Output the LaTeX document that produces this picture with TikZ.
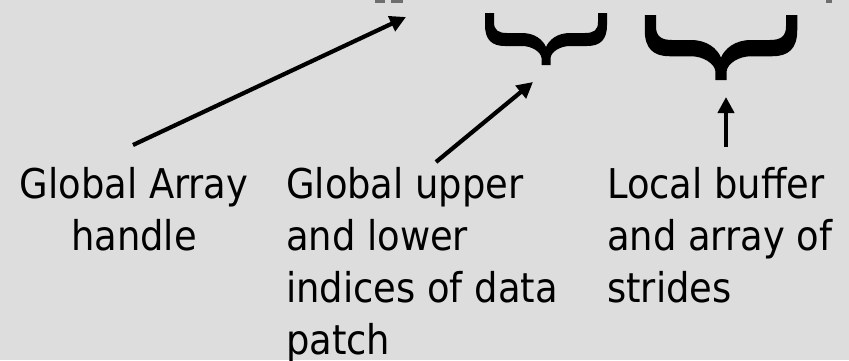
\documentclass[tikz,border=0pt]{standalone}
\usepackage{fontspec}
\setmainfont{DejaVu Sans Condensed}
\usetikzlibrary{arrows.meta}
\definecolor{bggray}{RGB}{221,221,221}
\definecolor{cutgray}{RGB}{110,110,110}
\tikzset{
  lbl/.style={inner sep=0pt, font=\fontsize{41}{52}\selectfont},
  ptr/.style={line width=4.2pt, -{Triangle[length=16pt,width=16pt]}},
  bracepic/.pic={
    \fill (-61,0) -- (-61,12) .. controls (-61,27) and (-54,33) .. (-41,33) -- (-24,33)
      .. controls (-14,33) and (-5,39) .. (-4.5,45) -- (-4.5,52) -- (4.5,52) -- (4.5,45)
      .. controls (5,39) and (14,33) .. (24,33) -- (41,33)
      .. controls (54,33) and (61,27) .. (61,12) -- (61,0) -- (52,0) -- (52,9)
      .. controls (52,17) and (48,20) .. (39,20) -- (24,20)
      .. controls (11,20) and (3,27) .. (0,34)
      .. controls (-3,27) and (-11,20) .. (-24,20) -- (-39,20)
      .. controls (-48,20) and (-52,17) .. (-52,9) -- (-52,0) -- cycle;
  }
}
\begin{document}
\begin{tikzpicture}[x=1pt,y=-1pt]
\fill[bggray] (0,0) rectangle (849,360);
\useasboundingbox (0,0) rectangle (849,360);
% cut-off glyph bits at the top edge
\fill[cutgray] (375,0) rectangle (385,2.5);
\fill[cutgray] (391,0) rectangle (403,2.5);
\fill[cutgray] (826,0) rectangle (832,3);
% braces
\pic at (546,13) {bracepic};
\pic[scale=1.25] at (721,15) {bracepic};
% labels (anchor base = baseline of the last line)
\node[lbl, anchor=base, align=center] (handle) at (134,250) {Global Array\\handle};
\node[lbl, anchor=base west, align=left] (indices) at (286,354) {Global upper\\and lower\\indices of data\\patch};
\node[lbl, anchor=base west, align=left] (buffer) at (607,302) {Local buffer\\and array of\\strides};
% arrow end points
\coordinate (a1s) at (133,145);
\coordinate (a1e) at (406,17);
\coordinate (a2s) at (436,162);
\coordinate (a2e) at (533,82);
\coordinate (a3s) at (726,147);
\coordinate (a3e) at (726,97);
\draw[ptr] (a1s) -- (a1e);
\draw[ptr] (a2s) -- (a2e);
\draw[ptr] (a3s) -- (a3e);
\end{tikzpicture}
\end{document}
